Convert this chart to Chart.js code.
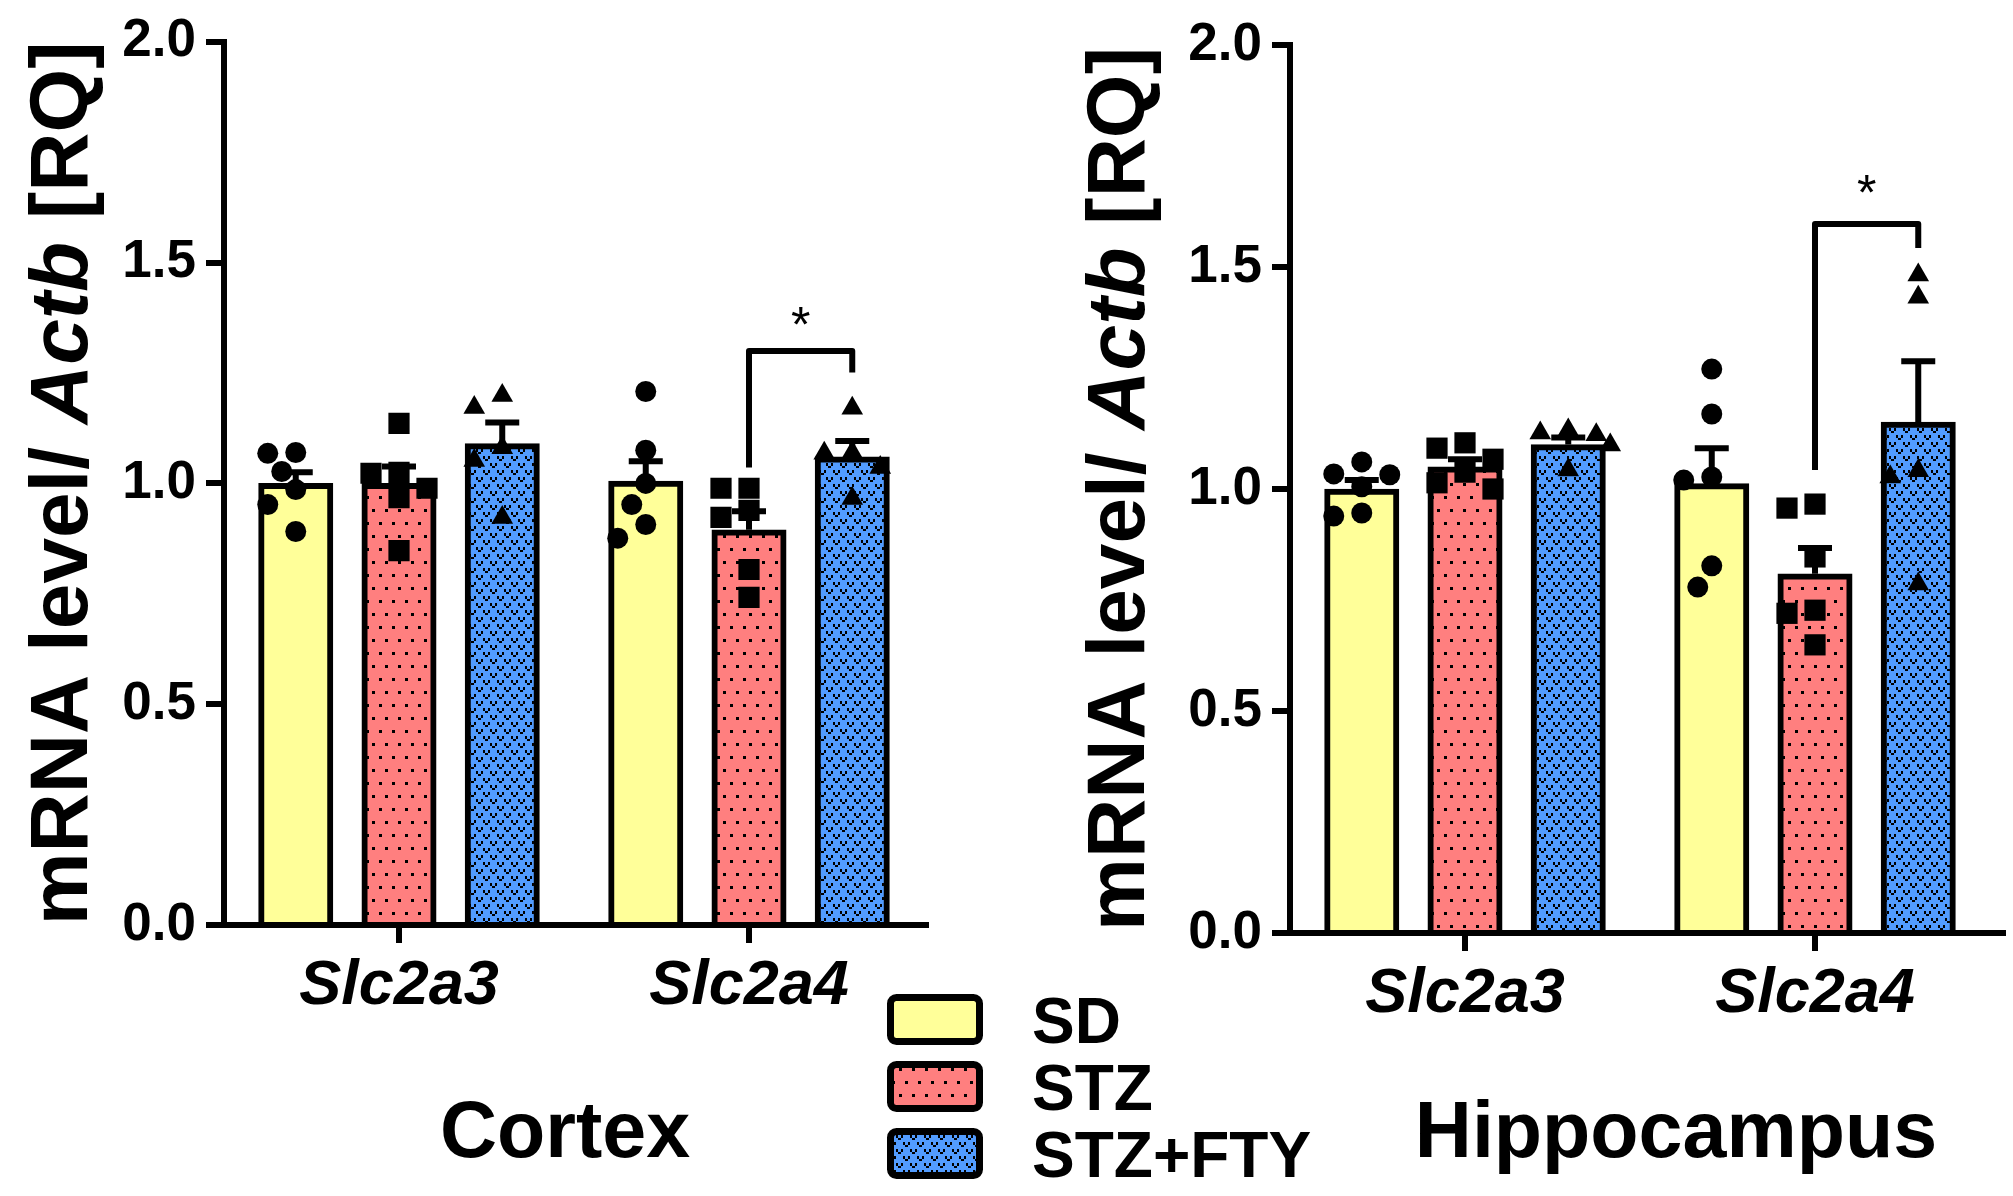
<!DOCTYPE html>
<html>
<head>
<meta charset="utf-8">
<title>Slc2a3 / Slc2a4 mRNA - Cortex and Hippocampus</title>
<script src="https://cdn.jsdelivr.net/npm/chart.js@4.4.1/dist/chart.umd.min.js"></script>
<style>
  html, body { margin: 0; padding: 0; background: #fff; }
  body { width: 2013px; height: 1196px; position: relative; overflow: hidden; }
  canvas { position: absolute; top: 0; }
  #cortex { left: 0; }
  #hippo { left: 1000px; }
</style>
</head>
<body>
<canvas id="cortex" width="1400" height="1196"></canvas>
<canvas id="hippo" width="1013" height="1196"></canvas>
<script>
// ---- data ----
const genes = ['Slc2a3', 'Slc2a4'];
const groups = ['SD', 'STZ', 'STZ+FTY'];
const yTicks = [0, 0.5, 1.0, 1.5, 2.0];

// cortex: means, SEM, single animals
const cortexSD = [1.00, 1.005];
const cortexSTZ = [1.00, 0.895];
const cortexFTY = [1.09, 1.06];
const cortexSemSD = [0.025, 0.045];
const cortexSemSTZ = [0.038, 0.042];
const cortexSemFTY = [0.048, 0.036];
const cortexPtsSD = [[1.068, 1.027, 1.070, 0.986, 0.952, 0.891], [1.208, 1.075, 1.000, 0.952, 0.907, 0.876]];
const cortexPtsSTZ = [[1.136, 1.025, 1.023, 0.989, 0.968, 0.848], [0.989, 0.989, 0.939, 0.923, 0.805, 0.742]];
const cortexPtsFTY = [[1.172, 1.199, 1.081, 1.052, 0.923], [1.170, 1.068, 1.070, 1.036, 0.966]];
const cortexBracket = [1.036, 1.30, 1.251];   // left leg end, top, right leg end
const cortexStar = 1.387;

// hippocampus
const hippSD = [1.00, 1.012];
const hippSTZ = [1.05, 0.809];
const hippFTY = [1.10, 1.151];
const hippSemSD = [0.02, 0.08];
const hippSemSTZ = [0.017, 0.058];
const hippSemFTY = [0.016, 0.137];
const hippPtsSD = [[1.034, 1.005, 1.032, 1.061, 0.939, 0.946], [1.270, 1.169, 1.027, 1.020, 0.827, 0.779]];
const hippPtsSTZ = [[1.104, 1.092, 1.067, 1.038, 1.000, 1.014], [0.966, 0.957, 0.847, 0.727, 0.720, 0.649]];
const hippPtsFTY = [[1.122, 1.126, 1.133, 1.043, 1.099], [1.482, 1.432, 1.041, 1.027, 0.786]];
const hippBracket = [1.043, 1.597, 1.543];
const hippStar = 1.694;

// ---- look ----
const FONT = '"Liberation Sans", Arial, Helvetica, sans-serif';
const SD_COLOR = '#FFFF99';
const STZ_COLOR = '#FF7F7F';
const FTY_COLOR = '#529CFF';
const CAT_PCT = 0.885;   // share of a category used by the three bars
const BAR_PCT = 0.72;    // bar width inside its slot
const LINE = 6;
const X_AXIS_H = 120;
const MARK_D = 22;       // marker size in px, used for the swarm
const SWARM_STEP = 14;

Chart.defaults.font.family = FONT;
Chart.defaults.color = '#000';

function dotPattern() {
  const c = document.createElement('canvas');
  c.width = 13; c.height = 26;
  const g = c.getContext('2d');
  g.fillStyle = STZ_COLOR; g.fillRect(0, 0, 13, 26);
  g.fillStyle = '#000';
  g.fillRect(2, 2, 3, 3);
  g.fillRect(8, 15, 3, 3);
  return g.createPattern(c, 'repeat');
}

function vPattern() {
  const c = document.createElement('canvas');
  c.width = 14; c.height = 14;
  const g = c.getContext('2d');
  g.fillStyle = FTY_COLOR; g.fillRect(0, 0, 14, 14);
  g.fillStyle = '#000';
  [[0, 1], [7, 8]].forEach(([x, y]) => {
    g.fillRect(x, y, 2, 3);
    g.fillRect(x + 5, y, 2, 3);
    g.fillRect(x + 2, y + 3, 3, 2);
  });
  return g.createPattern(c, 'repeat');
}

const FILLS = [SD_COLOR, dotPattern(), vPattern()];
const MARKS = [
  { style: 'circle', r: 10.5 },
  { style: 'rect', r: 15 },
  { style: 'triangle', r: 12.5 }
];

// where group j sits inside a gene category, in category units
const slot = j => (j - 1) * CAT_PCT / groups.length;

// simple beeswarm: spread points of similar value sideways
function swarm(vals, pxPerVal, pxPerCat) {
  const placed = [];
  const off = [];
  vals.map((v, i) => i).sort((a, b) => vals[b] - vals[a]).forEach(i => {
    const py = vals[i] * pxPerVal;
    let px = 0;
    for (const k of [0, -1, 1, -2, 2, -3, 3]) {
      px = k * SWARM_STEP;
      if (placed.every(p => Math.hypot(p.x - px, p.y - py) >= MARK_D)) break;
    }
    placed.push({ x: px, y: py });
    off[i] = px / pxPerCat;
  });
  return off;
}

const errorBars = {
  id: 'errorBars',
  afterDatasetsDraw(chart) {
    const ctx = chart.ctx, y = chart.scales.y;
    ctx.save();
    ctx.strokeStyle = '#000';
    ctx.lineWidth = LINE;
    chart.data.datasets.forEach((ds, di) => {
      if (!ds.sem) return;
      chart.getDatasetMeta(di).data.forEach((bar, i) => {
        const top = y.getPixelForValue(ds.data[i].y + ds.sem[i]);
        ctx.beginPath();
        ctx.moveTo(bar.x, bar.y);
        ctx.lineTo(bar.x, top);
        ctx.moveTo(bar.x - 17, top);
        ctx.lineTo(bar.x + 17, top);
        ctx.stroke();
      });
    });
    ctx.restore();
  }
};

const decorations = {
  id: 'decorations',
  afterDraw(chart, args, o) {
    const ctx = chart.ctx, y = chart.scales.y, a = chart.chartArea;
    ctx.save();
    ctx.fillStyle = '#000';
    ctx.strokeStyle = '#000';

    // x axis runs a little past the last bar
    ctx.lineWidth = LINE;
    ctx.beginPath();
    ctx.moveTo(a.right - 3, a.bottom);
    ctx.lineTo(a.right + o.axisExt, a.bottom);
    ctx.stroke();

    // significance bracket between STZ and STZ+FTY of Slc2a4
    const xa = chart.getDatasetMeta(1).data[1].x;
    const xb = chart.getDatasetMeta(2).data[1].x;
    const [l, t, r] = o.bracket;
    ctx.lineJoin = 'round';
    ctx.beginPath();
    ctx.moveTo(xa, y.getPixelForValue(l));
    ctx.lineTo(xa, y.getPixelForValue(t));
    ctx.lineTo(xb, y.getPixelForValue(t));
    ctx.lineTo(xb, y.getPixelForValue(r));
    ctx.stroke();
    ctx.font = '50px ' + FONT;
    ctx.textAlign = 'center';
    ctx.textBaseline = 'alphabetic';
    ctx.fillText('*', (xa + xb) / 2, y.getPixelForValue(o.star) + 29);

    // rotated y title with italic gene name
    const size = 82;
    const parts = [['mRNA level/ ', 'bold'], ['Actb', 'italic bold'], [' [RQ]', 'bold']];
    ctx.translate(o.titleX, (a.top + a.bottom) / 2);
    ctx.rotate(-Math.PI / 2);
    ctx.textAlign = 'left';
    const widths = parts.map(p => { ctx.font = `${p[1]} ${size}px ${FONT}`; return ctx.measureText(p[0]).width; });
    let x = -widths.reduce((s, w) => s + w, 0) / 2;
    parts.forEach((p, i) => {
      ctx.font = `${p[1]} ${size}px ${FONT}`;
      ctx.fillText(p[0], x, 0.358 * size);
      x += widths[i];
    });
    ctx.setTransform(1, 0, 0, 1, 0, 0);

    // region name
    ctx.font = 'bold 79px ' + FONT;
    ctx.textAlign = 'center';
    ctx.fillText(o.region, o.regionX, 1157);
    ctx.restore();
  }
};

const groupLegend = {
  id: 'groupLegend',
  afterDraw(chart, args, o) {
    if (!o.show) return;
    const ctx = chart.ctx;
    ctx.save();
    groups.forEach((g, j) => {
      const top = 994 + j * 67;
      ctx.beginPath();
      ctx.roundRect(890.5, top + 3.5, 89, 44, 6);
      ctx.fillStyle = FILLS[j];
      ctx.fill();
      ctx.lineWidth = 7;
      ctx.strokeStyle = '#000';
      ctx.stroke();
      ctx.fillStyle = '#000';
      ctx.font = 'bold 64px ' + FONT;
      ctx.textBaseline = 'alphabetic';
      ctx.fillText(g, 1032, top + 49);
    });
    ctx.restore();
  }
};

function panel(id, cfg) {
  const canvas = document.getElementById(id);
  const W = canvas.width, H = canvas.height;
  const [L, T, R, B] = cfg.area;
  const pxPerVal = (B - T) / 2, pxPerCat = (R - L) / genes.length;

  // bars sit on the hidden linear axis, one slot per group inside each gene
  const bars = groups.map((g, j) => ({
    type: 'bar',
    label: g,
    data: cfg.means[j].map((v, i) => ({ x: i + slot(j), y: v })),
    sem: cfg.sems[j],
    xAxisID: 'xs',
    grouped: false,
    barThickness: pxPerCat * CAT_PCT / groups.length * BAR_PCT,
    backgroundColor: FILLS[j],
    borderColor: '#000',
    borderWidth: LINE,
    borderSkipped: 'start',
    order: 2
  }));

  const marks = groups.map((g, j) => {
    const data = [];
    cfg.points[j].forEach((vals, i) => {
      const off = swarm(vals, pxPerVal, pxPerCat);
      vals.forEach((v, k) => data.push({ x: i + slot(j) + off[k], y: v }));
    });
    return {
      type: 'scatter',
      label: g + ' animals',
      data,
      xAxisID: 'xs',
      pointStyle: MARKS[j].style,
      pointRadius: MARKS[j].r,
      pointHoverRadius: MARKS[j].r,
      pointBackgroundColor: '#000',
      pointBorderColor: '#000',
      pointBorderWidth: 0,
      order: 1
    };
  });

  return new Chart(canvas, {
    type: 'bar',
    data: { labels: genes, datasets: [...bars, ...marks] },
    options: {
      responsive: false,
      animation: false,
      events: [],
      layout: { padding: { left: 0, top: T, right: W - R, bottom: H - B - X_AXIS_H } },
      scales: {
        x: {
          type: 'category',
          offset: true,
          grid: { offset: false, drawOnChartArea: false, color: '#000', lineWidth: LINE, tickLength: 18 },
          border: { color: '#000', width: LINE },
          ticks: { padding: 6, maxRotation: 0, color: '#000', font: { size: 63, weight: 'bold', style: 'italic' } },
          afterFit: s => { s.height = X_AXIS_H; }
        },
        xs: { type: 'linear', axis: 'x', display: false, offset: false, min: -0.5, max: 1.5 },
        y: {
          min: 0,
          max: 2,
          stacked: false,
          afterBuildTicks: s => { s.ticks = yTicks.map(v => ({ value: v })); },
          afterFit: s => { s.width = L; },
          grid: { drawOnChartArea: false, color: '#000', lineWidth: LINE, tickLength: 18 },
          border: { color: '#000', width: LINE },
          ticks: { padding: 10, color: '#000', callback: v => v.toFixed(1), font: { size: 53, weight: 'bold' } }
        }
      },
      plugins: {
        legend: { display: false },
        tooltip: { enabled: false },
        decorations: cfg.deco,
        groupLegend: { show: cfg.legend }
      }
    },
    plugins: [errorBars, decorations, groupLegend]
  });
}

panel('cortex', {
  area: [224, 41, 924, 925],
  means: [cortexSD, cortexSTZ, cortexFTY],
  sems: [cortexSemSD, cortexSemSTZ, cortexSemFTY],
  points: [cortexPtsSD, cortexPtsSTZ, cortexPtsFTY],
  legend: true,
  deco: { axisExt: 5, bracket: cortexBracket, star: cortexStar, titleX: 58, region: 'Cortex', regionX: 565 }
});

panel('hippo', {
  area: [290, 45, 990, 933],
  means: [hippSD, hippSTZ, hippFTY],
  sems: [hippSemSD, hippSemSTZ, hippSemFTY],
  points: [hippPtsSD, hippPtsSTZ, hippPtsFTY],
  legend: false,
  deco: { axisExt: 16, bracket: hippBracket, star: hippStar, titleX: 115, region: 'Hippocampus', regionX: 676 }
});
</script>
</body>
</html>
